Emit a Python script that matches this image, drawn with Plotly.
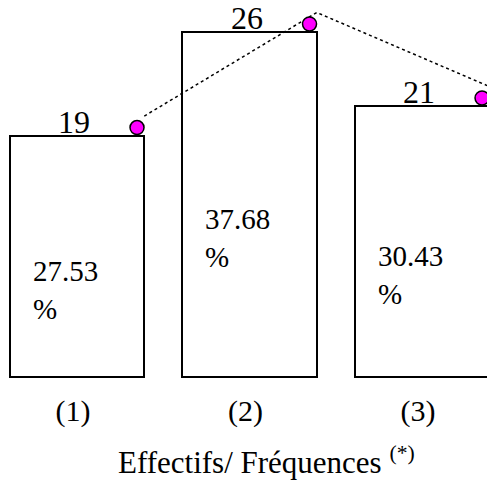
import plotly.graph_objects as go

# Data
categories = ["(1)", "(2)", "(3)"]
effectifs = [19, 26, 21]
frequences = [27.53, 37.68, 30.43]

FONT = "Liberation Serif"
xs = list(range(len(categories)))
BAR_W = 0.78
BASE = 2.72
Y_RANGE = [1.811, 28.162]
PX_PER_UNIT = 390 / (Y_RANGE[1] - Y_RANGE[0])

fig = go.Figure()

# Rectangles for each group
fig.add_trace(go.Bar(
    x=xs, y=[v - BASE for v in effectifs], base=BASE, width=BAR_W,
    marker=dict(color="white", line=dict(color="black", width=2)),
    hoverinfo="skip", showlegend=False,
))

# Dotted polyline joining the group tops
fig.add_trace(go.Scatter(
    x=[x + BAR_W / 2 for x in xs],
    y=[v + 19.5 / PX_PER_UNIT for v in effectifs],
    mode="lines", line=dict(color="black", width=1.5, dash="dot"),
    hoverinfo="skip", showlegend=False,
))

# Magenta markers at the top-right corners
fig.add_trace(go.Scatter(
    x=[x + 0.348 for x in xs],
    y=[v + 8 / PX_PER_UNIT for v in effectifs],
    mode="markers",
    marker=dict(size=14, color="#ff00ff", line=dict(color="black", width=1.5)),
    hoverinfo="skip", showlegend=False,
))

# Counts above the bars, frequencies inside
for x, v, f in zip(xs, effectifs, frequences):
    fig.add_annotation(
        x=x, y=v, text=str(v), showarrow=False,
        xanchor="center", yanchor="bottom", xshift=-3, yshift=-6,
        font=dict(family=FONT, size=32, color="black"),
    )
    fig.add_annotation(
        x=x - BAR_W / 2 + 0.122, y=(BASE + v) / 2, text=f"{f:.2f}<br>%",
        showarrow=False, align="left", xanchor="left", yanchor="middle",
        yshift=-34, font=dict(family=FONT, size=29, color="black"),
    )

# Axis title line
fig.add_annotation(
    xref="paper", yref="paper", x=0.548, y=-0.18,
    text="Effectifs/ Fréquences <sup>(*)</sup>", showarrow=False,
    xanchor="center", yanchor="middle",
    font=dict(family=FONT, size=31, color="black"),
)

fig.update_layout(
    width=487, height=483,
    margin=dict(l=0, r=0, t=0, b=93, pad=0),
    paper_bgcolor="white", plot_bgcolor="white",
    bargap=0,
    xaxis=dict(
        range=[-0.4464, 2.3768], tickvals=xs, ticktext=categories,
        showgrid=False, zeroline=False, showline=False, ticks="",
        ticklabelstandoff=0, ticklabelshift=-4,
        tickfont=dict(family=FONT, size=30, color="black"),
    ),
    yaxis=dict(
        range=Y_RANGE, visible=False,
        showgrid=False, zeroline=False,
    ),
)

fig.write_html("out.html")
